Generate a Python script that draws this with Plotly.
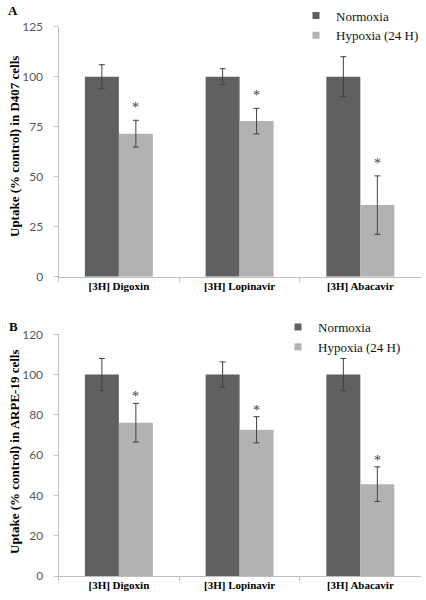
import plotly.graph_objects as go

# ---- data ----
categories = ["[3H] Digoxin", "[3H] Lopinavir", "[3H] Abacavir"]
series_names = ["Normoxia", "Hypoxia (24 H)"]

a_normoxia = [100, 100, 100]
a_normoxia_err = [6, 4, 10]
a_hypoxia = [71.5, 77.8, 35.8]
a_hypoxia_err = [6.7, 6.4, 14.6]

b_normoxia = [100, 100, 100]
b_normoxia_err = [8, 6.3, 8]
b_hypoxia = [76.1, 72.6, 45.6]
b_hypoxia_err = [9.6, 6.5, 8.6]

a_ticks = [0, 25, 50, 75, 100, 125]
b_ticks = [0, 20, 40, 60, 80, 100, 120]

a_ytitle = "Uptake (% control) in D407 cells"
b_ytitle = "Uptake (% control) in ARPE-19 cells"

# ---- style ----
W, H = 426, 600
C_NORM = "#606060"
C_HYP = "#b2b2b2"
AXIS_C = "#bfbfbf"
ERR_C = "#404040"
SERIF = "Liberation Serif"
SANS = "Lato"
BARGAP = 0.437

def px_x(p):
    return p / W

def px_y(p):
    return 1 - p / H

fig = go.Figure()

panels = [
    dict(nv=a_normoxia, ne=a_normoxia_err, hv=a_hypoxia, he=a_hypoxia_err,
         xa="x", ya="y", leg="legend", star_shift=3),
    dict(nv=b_normoxia, ne=b_normoxia_err, hv=b_hypoxia, he=b_hypoxia_err,
         xa="x2", ya="y2", leg="legend2", star_shift=-3),
]

for p in panels:
    for name, vals, errs, col in [(series_names[0], p["nv"], p["ne"], C_NORM),
                                  (series_names[1], p["hv"], p["he"], C_HYP)]:
        fig.add_trace(go.Bar(
            x=categories, y=vals, name=name, marker=dict(color=col, line=dict(width=0)),
            error_y=dict(type="data", array=errs, visible=True, color=ERR_C,
                         thickness=1, width=3),
            xaxis=p["xa"], yaxis=p["ya"], showlegend=False,
        ))
        # legend entries (small square swatches)
        fig.add_trace(go.Scatter(
            x=[None], y=[None], mode="markers", name=name,
            marker=dict(symbol="square", size=7, color=col),
            xaxis=p["xa"], yaxis=p["ya"], legend=p["leg"], showlegend=True,
        ))

annotations = []
# significance stars above hypoxia bars
off = (1 - BARGAP) / 4
for p in panels:
    for i, (v, e) in enumerate(zip(p["hv"], p["he"])):
        annotations.append(dict(
            x=i + off, y=v + e, xref=p["xa"], yref=p["ya"], text="*",
            showarrow=False, xanchor="center", yanchor="bottom", yshift=p["star_shift"],
            font=dict(family=SERIF, size=14, color="#404040"),
        ))

lbl_font = dict(family=SERIF, size=13, color="#000")
# panel letters
annotations.append(dict(x=px_x(13), y=px_y(11), xref="paper", yref="paper", text="<b>A</b>",
                        xanchor="center", yanchor="middle", showarrow=False, font=lbl_font))
annotations.append(dict(x=px_x(13), y=px_y(326), xref="paper", yref="paper", text="<b>B</b>",
                        xanchor="center", yanchor="middle", showarrow=False, font=lbl_font))
# y axis titles
annotations.append(dict(x=px_x(14), y=px_y(147), xref="paper", yref="paper",
                        text="<b>" + a_ytitle + "</b>", textangle=-90, showarrow=False,
                        xanchor="center", yanchor="middle", font=lbl_font))
annotations.append(dict(x=px_x(14), y=px_y(452), xref="paper", yref="paper",
                        text="<b>" + b_ytitle + "</b>", textangle=-90, showarrow=False,
                        xanchor="center", yanchor="middle", font=lbl_font))

xdom = [px_x(58.5), px_x(420.7)]
xaxis_common = dict(
    domain=xdom, showline=True, linecolor=AXIS_C, linewidth=1,
    ticks="outside", tickson="boundaries", ticklen=4, tickcolor=AXIS_C,
    showgrid=False, zeroline=False,
    tickfont=dict(family=SERIF, size=11, color="#000"),
    tickprefix="<b>", ticksuffix="</b>", ticklabelstandoff=-1,
    range=[-0.5, 2.5], automargin=False,
)
yaxis_common = dict(
    showline=True, linecolor=AXIS_C, linewidth=1, ticks="outside", ticklen=4,
    tickcolor=AXIS_C, showgrid=False, zeroline=False, ticklabelstandoff=8,
    tickfont=dict(family=SANS, size=12, color="#595959"), automargin=False,
)
legend_common = dict(xanchor="left", yanchor="top", bgcolor="rgba(0,0,0,0)",
                     font=dict(family=SERIF, size=13, color="#111"),
                     tracegroupgap=0, itemwidth=30)

fig.update_layout(
    width=W, height=H,
    margin=dict(l=0, r=0, t=0, b=0),
    paper_bgcolor="white", plot_bgcolor="white",
    barmode="group", bargap=BARGAP, bargroupgap=0,
    xaxis=dict(**xaxis_common, anchor="y"),
    xaxis2=dict(**xaxis_common, anchor="y2"),
    yaxis=dict(**yaxis_common, anchor="x", domain=[px_y(276.7), px_y(26.7)],
               range=[0, 125], tickvals=a_ticks),
    yaxis2=dict(**yaxis_common, anchor="x2", domain=[px_y(576), px_y(334.3)],
                range=[0, 120], tickvals=b_ticks),
    legend=dict(x=px_x(296), y=px_y(0.5), **legend_common),
    legend2=dict(x=px_x(278), y=px_y(312), **legend_common),
    annotations=annotations,
)

fig.write_html("out.html", config={"displayModeBar": False},
               post_script="document.body.style.margin='0';")
